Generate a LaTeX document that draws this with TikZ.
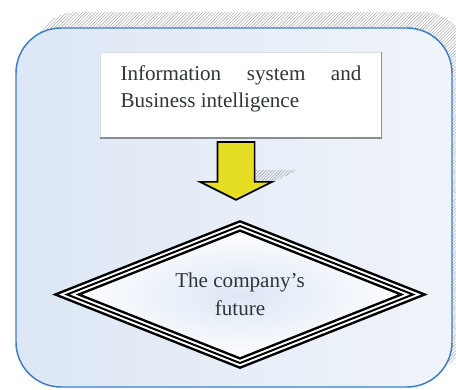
\documentclass[tikz,border=0pt]{standalone}
\usepackage{fontspec}
\setmainfont{Liberation Serif}
\usetikzlibrary{shapes.geometric, patterns, calc}
\definecolor{themeBlue}{RGB}{61, 125, 200}
\definecolor{themeSky}{RGB}{221, 231, 245}
\definecolor{themePale}{RGB}{240, 244, 250}
\definecolor{themeYellow}{RGB}{229, 222, 34}
\definecolor{themeInk}{RGB}{48, 54, 56}
\definecolor{themeGrey}{RGB}{120, 121, 124}

\begin{document}
\begin{tikzpicture} [
        panel/.style={rounded corners=1.5cm, draw=themeBlue, line width=1.4pt, left color=themeSky, right color=themePale},
        hatch/.style={pattern=north east lines, pattern color=themeGrey!70},
        label font/.style={font=\fontsize{20}{26.5}\selectfont, text=themeInk},
        info box/.style={label font, fill=white, draw=themeGrey!25, align=justify, text width=8.03cm,
            inner xsep=0.667cm, inner ysep=0.45cm, text height=0.48cm, text depth=1.48cm},
        triple/.style={draw=black, line width=10.4pt, postaction={draw=white, line width=5.7pt},
            postaction={draw=black, line width=1.9pt}},
        future box/.style={label font, diamond, aspect=2.52, align=center, inner sep=0pt, outer sep=0pt,
            minimum width=11.53cm, minimum height=4.57cm, shading=radial, inner color=themeSky, outer color=white, triple},
        block arrow/.style={draw=black, line width=1.6pt, fill=themeYellow, line join=miter},
    ]

    \useasboundingbox (0,0) rectangle (15.2,-12.967);

    % panel with its hatched shadow
    \fill[hatch, rounded corners=1.5cm] (1.067,-0.4) rectangle (15.6,-12.4);
    \path[panel] (0.533,-0.933) rectangle (15.067,-12.9);

    \node[info box] (info) at (8.033,-3.167) {Information system and Business intelligence};
    \draw[themeGrey!85, line width=1.5pt] (info.north east) -- (info.south east) -- (info.south west);

    \node[future box] (future) at (8.0,-9.817) {The company’s\\future};

    \coordinate (arrow tip) at ($(future.north)+(-0.13,0.87)$);
    \coordinate (arrow top) at ($(arrow tip |- info.south)+(0,-0.13)$);

    \fill[hatch] ($(arrow tip)+(-0.333,1.0)$) -- ($(arrow tip)+(2.067,1.0)$) -- ($(arrow tip)+(0.867,0.4)$) -- cycle;
    \draw[block arrow] ($(arrow top)+(-0.617,0)$) -- ($(arrow top)+(0.617,0)$)
        -- ($(arrow tip)+(0.617,0.6)$) -- ($(arrow tip)+(1.2,0.6)$) -- (arrow tip)
        -- ($(arrow tip)+(-1.2,0.6)$) -- ($(arrow tip)+(-0.617,0.6)$) -- cycle;

\end{tikzpicture}
\end{document}
